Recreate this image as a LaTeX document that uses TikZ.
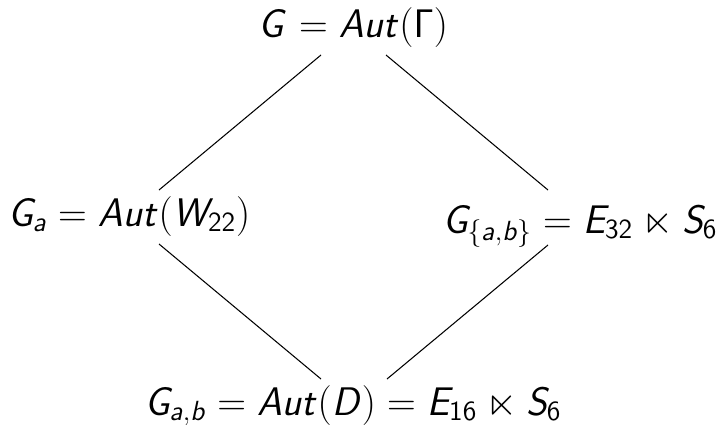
\documentclass[tikz,border=0pt]{standalone}
\usepackage{amssymb}
\DeclareMathAlphabet{\mathsfit}{OT1}{cmss}{m}{sl}
\newcommand{\si}[1]{\mathsfit{#1}}
\newcommand{\su}[1]{\mathsf{#1}}
\begin{document}
\begin{tikzpicture}[x=0.52pt,y=-0.52pt,
  lbl/.style={anchor=base,inner sep=0pt,font=\huge},
  edge/.style={line width=0.55pt}]
\useasboundingbox (0,0) rectangle (716,424);
\node[lbl] (top) at (353,37) {$\si{G} = \si{Aut}(\su{\Gamma})$};
\node[lbl] (left) at (129,226) {$\si{G}_{\si{a}} = \si{Aut}(\si{W}_{\su{22}})$};
\node[lbl] (right) at (580,233) {$\si{G}_{\{\si{a},\si{b}\}} = \si{E}_{\su{32}} \ltimes \si{S}_{\su{6}}$};
\node[lbl] (bot) at (353,415) {$\si{G}_{\si{a},\si{b}} = \si{Aut}(\si{D}) = \si{E}_{\su{16}} \ltimes \si{S}_{\su{6}}$};
\draw[edge] ([shift={(-32,18)}]top.base) -- ([shift={(30,-36)}]left.base);
\draw[edge] ([shift={(33,18)}]top.base) -- ([shift={(-32,-43)}]right.base);
\draw[edge] ([shift={(30,18)}]left.base) -- ([shift={(-32,-36)}]bot.base);
\draw[edge] ([shift={(-32,12)}]right.base) -- ([shift={(34,-36)}]bot.base);
\end{tikzpicture}
\end{document}
